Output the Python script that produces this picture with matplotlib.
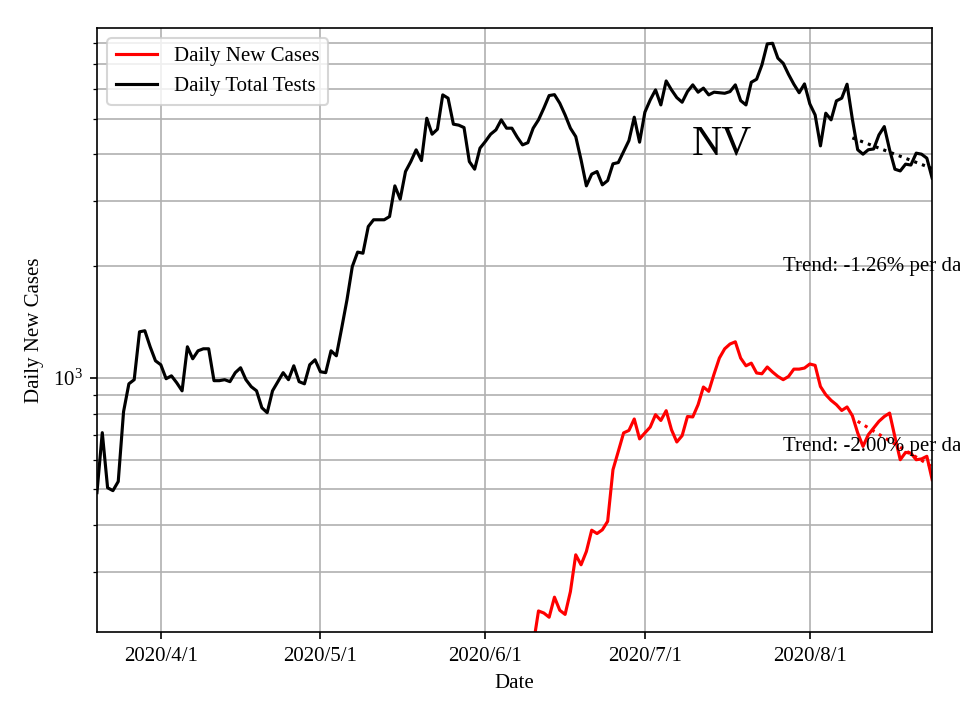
import matplotlib
matplotlib.use("Agg")
import matplotlib.pyplot as plt
import matplotlib.dates as mdates
import matplotlib.ticker as mticker
import numpy as np
import pandas as pd

plt.rcParams['font.family'] = ['Liberation Serif', 'DejaVu Serif']
plt.rcParams['mathtext.fontset'] = 'stix'

# daily total tests, 7-day avg, 2020-03-20 .. 2020-08-24
tests_start = "2020-03-20"
tests = [
    490, 711, 505, 496, 525, 810, 963, 988, 1330, 1339,
    1212, 1111, 1084, 994, 1012, 969, 922, 1212, 1125, 1182,
    1197, 1197, 982, 982, 988, 976, 1032, 1064, 988, 946,
    922, 830, 805, 922, 976, 1032, 988, 1077, 976, 963,
    1084, 1118, 1038, 1032, 1182, 1146, 1360, 1623, 1995, 2182,
    2167, 2557, 2667, 2667, 2667, 2721, 3292, 3031, 3598, 3828,
    4118, 3852, 5010, 4537, 4680, 5792, 5675, 4829, 4800, 4728,
    3828, 3651, 4160, 4335, 4537, 4661, 4960, 4710, 4710, 4455,
    4246, 4305, 4710, 4960, 5333, 5768, 5800, 5500, 5114, 4710,
    4471, 3870, 3292, 3540, 3598, 3313, 3402, 3775, 3805, 4074,
    4362, 5043, 4318, 5203, 5614, 5975, 5442, 6315, 5975, 5695,
    5534, 5912, 6164, 5890, 6040, 5792, 5890, 5870, 5850, 5912,
    6164, 5590, 5442, 6265, 6383, 6980, 7950, 7980, 7275, 7047,
    6580, 6189, 5870, 6200, 5478, 5114, 4220, 5170, 4960, 5580,
    5675, 6189, 4981, 4120, 4008, 4120, 4140, 4518, 4757, 4120,
    3651, 3612, 3767, 3747, 4034, 4008, 3910, 3453,
]

# daily new cases (only the part above the y floor), from 2020-06-10
cases_start = "2020-06-10"
cases = [
    190, 235, 232, 226, 256, 236, 230, 265, 333, 313,
    340, 388, 380, 389, 410, 565, 633, 710, 721, 774,
    684, 710, 736, 795, 767, 815, 724, 671, 698, 786,
    784, 846, 944, 919, 1023, 1130, 1197, 1233, 1250, 1130,
    1077, 1095, 1030, 1025, 1069, 1036, 1008, 988, 1008, 1055,
    1055, 1062, 1089, 1080, 947, 900, 869, 846, 816, 834,
    790, 710, 653, 702, 732, 763, 786, 803, 692, 601,
    629, 626, 601, 604, 614, 531,
]

# trends as printed on the chart
tests_trend_start, tests_trend_first, tests_trend_rate = "2020-08-09", 4435, -0.0126
cases_trend_start, cases_trend_first, cases_trend_rate = "2020-08-10", 763, -0.0200
trend_end = "2020-08-24"

t_dates = pd.date_range(tests_start, periods=len(tests), freq="D")
c_dates = pd.date_range(cases_start, periods=len(cases), freq="D")

fig, ax = plt.subplots(figsize=(6.4, 4.8), dpi=150)
fig.subplots_adjust(left=0.101, right=0.971, bottom=0.122, top=0.961)

ax.plot(c_dates, cases, color='red', label='Daily New Cases')
ax.plot(t_dates, tests, color='black', label='Daily Total Tests')

# trend lines
for start, first, rate, col in [(tests_trend_start, tests_trend_first, tests_trend_rate, 'black'),
                                (cases_trend_start, cases_trend_first, cases_trend_rate, 'red')]:
    td = pd.date_range(start, trend_end, freq="D")
    k = np.arange(len(td))
    ax.plot(td, first * (1 + rate) ** k, ':', color=col)

ax.set_yscale('log')
ax.set_ylim(206, 8770)
ax.set_xlim(t_dates[0], t_dates[-1])

ax.xaxis.set_major_locator(mdates.MonthLocator())
ax.xaxis.set_major_formatter(mticker.FuncFormatter(
    lambda x, pos: "{0.year}/{0.month}/{0.day}".format(mdates.num2date(x))))

ax.grid(True, which='major')
ax.grid(True, which='minor', axis='y')

ax.set_xlabel('Date')
ax.set_ylabel('Daily New Cases')
ax.legend(loc='upper left')

ax.text(0.748, 0.791, 'NV', transform=ax.transAxes, fontsize=20, ha='center', va='baseline')
ax.text(pd.Timestamp("2020-07-27"), 2000, 'Trend: -1.26% per day', va='center', ha='left')
ax.text(pd.Timestamp("2020-07-27"), 654, 'Trend: -2.00% per day', va='center', ha='left')

fig.savefig('out.png', dpi=150)
